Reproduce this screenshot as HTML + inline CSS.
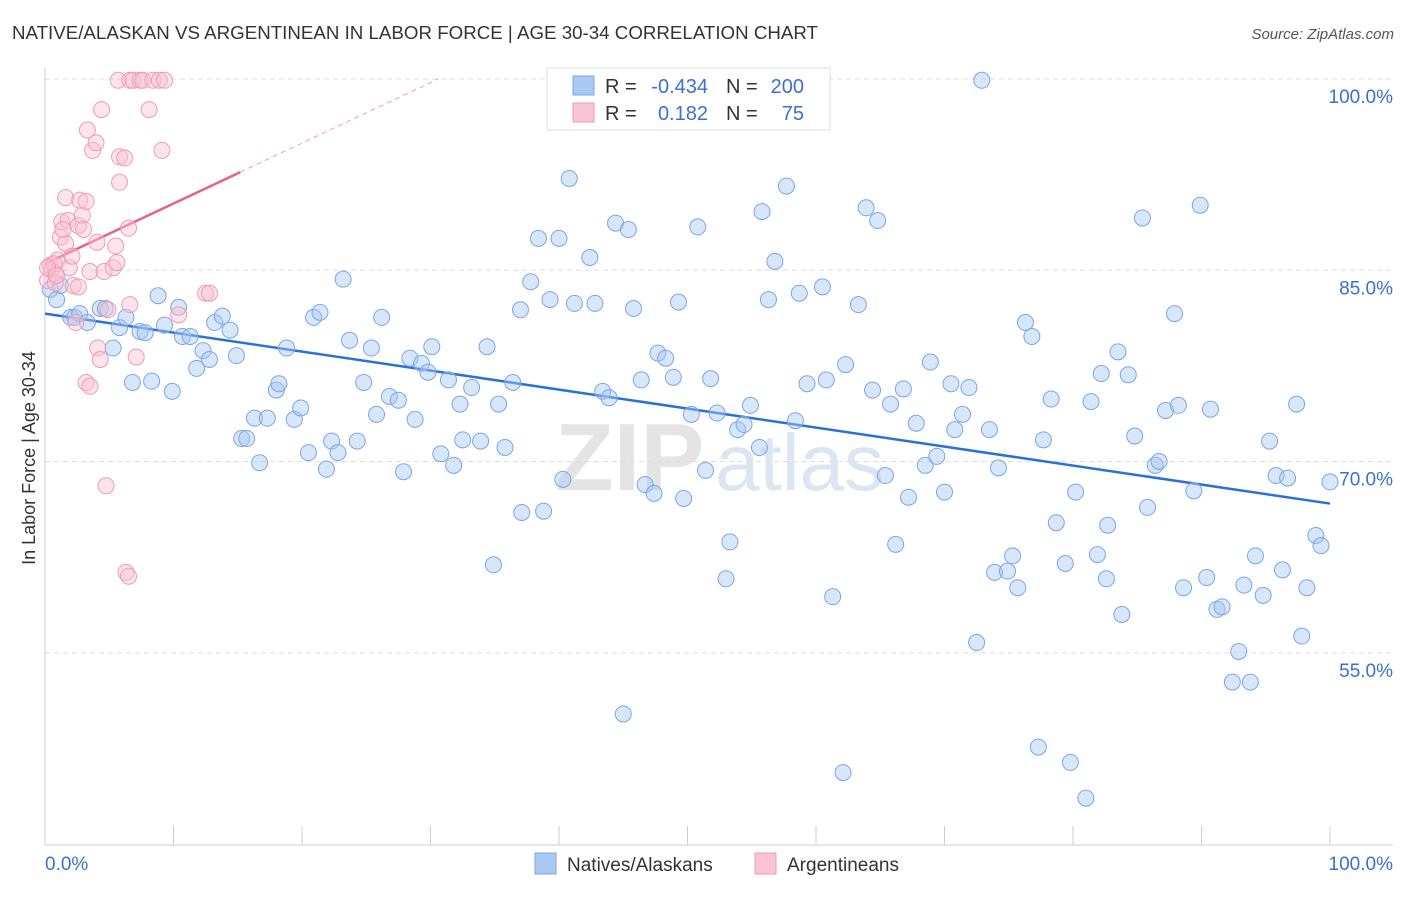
<!DOCTYPE html>
<html><head><meta charset="utf-8"><style>
body{margin:0;background:#fff;font-family:"Liberation Sans",sans-serif;}
svg text{font-family:"Liberation Sans",sans-serif;}
</style></head><body>
<svg id="chart" width="1406" height="892" xmlns="http://www.w3.org/2000/svg">
<text x="12" y="39" font-size="18" fill="#333" textLength="806" lengthAdjust="spacingAndGlyphs">NATIVE/ALASKAN VS ARGENTINEAN IN LABOR FORCE | AGE 30-34 CORRELATION CHART</text>
<text x="1394" y="39" font-size="15" fill="#555" font-style="italic" text-anchor="end">Source: ZipAtlas.com</text>
<text x="35" y="458" font-size="18" fill="#333" text-anchor="middle" transform="rotate(-90 35 458)">In Labor Force | Age 30-34</text>
<g><text x="555" y="490" font-size="96" fill="#e4e4e4" font-family="Liberation Serif" font-weight="bold">ZIP</text><text x="715" y="490" font-size="80" fill="#dce6f2">atlas</text></g>
<g id="grid"></g><g id="axes"></g><g id="trend"></g><g id="pts"></g>
<g>
<rect x="547" y="68" width="283" height="62" fill="#fff" stroke="#ddd"/>
<rect x="573" y="76" width="21" height="19" fill="#a9c8f2" stroke="#7aa6e6"/>
<rect x="573" y="103" width="21" height="19" fill="#f9c4d3" stroke="#f09ab5"/>
<text x="605" y="93" font-size="20" fill="#333">R =</text><text x="708" y="93" font-size="20" fill="#3b6fd1" text-anchor="end">-0.434</text>
<text x="726" y="93" font-size="20" fill="#333">N =</text><text x="804" y="93" font-size="20" fill="#3b6fd1" text-anchor="end">200</text>
<text x="605" y="120" font-size="20" fill="#333">R =</text><text x="708" y="120" font-size="20" fill="#3b6fd1" text-anchor="end">0.182</text>
<text x="726" y="120" font-size="20" fill="#333">N =</text><text x="804" y="120" font-size="20" fill="#3b6fd1" text-anchor="end">75</text>
</g>
<g>
<rect x="535" y="853" width="21" height="21" fill="#a9c8f2" stroke="#7aa6e6"/>
<text x="567" y="871" font-size="19" fill="#333">Natives/Alaskans</text>
<rect x="755" y="853" width="21" height="21" fill="#f9c4d3" stroke="#f09ab5"/>
<text x="787" y="871" font-size="19" fill="#333">Argentineans</text>
</g>
</svg>
<script>
const blueX=[0.4,0.9,1.2,2,2.3,2.7,3.3,4.3,4.7,5.3,5.8,6.3,6.8,7.4,7.8,8.3,8.8,9.3,9.9,10.4,10.7,11.3,11.8,12.3,12.8,13.2,13.8,14.4,14.9,15.3,15.7,16.3,16.7,17.3,18,18.2,18.8,19.4,19.9,20.5,20.9,21.4,21.9,22.3,22.8,23.2,23.7,24.3,24.8,25.4,25.8,26.2,26.8,27.5,27.9,28.4,28.8,29.3,29.8,30.1,30.8,31.4,31.8,32.3,32.5,33.2,33.9,34.4,34.9,35.3,35.8,36.4,37,37.1,37.8,38.4,38.8,39.3,40,40.3,40.8,41.2,42.4,42.8,43.4,43.9,44.4,45,45.4,45.8,46.4,46.7,47.4,47.7,48.3,48.9,49.3,49.7,50.3,50.8,51.4,51.8,52.3,53,53.3,53.9,54.4,54.9,55.6,55.8,56.3,56.8,57.7,58.4,58.7,59.3,59.9,60.5,60.8,61.3,62.1,62.3,63.3,63.9,64.4,64.8,65.4,65.8,66.2,66.8,67.2,67.8,68.5,68.9,69.4,70,70.5,70.8,71.4,71.9,72.5,72.9,73.5,73.9,74.2,74.9,75.3,75.7,76.3,76.8,77.3,77.7,78.3,78.7,79.4,79.8,80.2,81,81.4,81.9,82.2,82.6,82.7,83.5,83.8,84.3,84.8,85.4,85.8,86.4,86.7,87.2,87.9,88.2,88.6,89.4,89.9,90.4,90.7,91.2,91.6,92.4,92.9,93.3,93.8,94.2,94.8,95.3,95.8,96.3,96.7,97.4,97.8,98.2,98.9,99.3,100];
const blueY=[83.5,82.7,83.8,81.3,81.3,81.6,80.9,82,82,78.9,80.5,81.3,76.2,80.2,80.1,76.3,83,80.7,75.5,82.1,79.8,79.8,77.3,78.7,78,80.9,81.4,80.3,78.3,71.8,71.8,73.4,69.9,73.4,75.6,76.1,78.9,73.3,74.2,70.7,81.3,81.7,69.4,71.6,70.7,84.3,79.5,71.6,76.2,78.9,73.7,81.3,75.1,74.8,69.2,78.1,73.3,77.7,77,79,70.6,76.4,69.7,74.5,71.7,75.8,71.6,79,61.9,74.5,71.1,76.2,81.9,66,84.1,87.5,66.1,82.7,87.5,68.6,92.2,82.4,86,82.4,75.5,75,88.7,50.2,88.2,82,76.4,68.2,67.5,78.5,78.1,76.6,82.5,67.1,73.7,88.4,69.3,76.5,73.8,60.8,63.7,72.5,72.9,74.4,71.1,89.6,82.7,85.7,91.6,73.2,83.2,76.1,99.9,83.7,76.4,59.4,45.6,77.6,82.3,89.9,75.6,88.9,68.9,74.5,63.5,75.7,67.2,73,69.7,77.8,70.4,67.6,76.1,72.5,73.7,75.8,55.8,99.9,72.5,61.3,69.5,61.4,62.6,60.1,80.9,79.8,47.6,71.7,74.9,65.2,62,46.4,67.6,43.6,74.7,62.7,76.9,60.8,65,78.6,58,76.8,72,89.1,66.4,69.7,70,74,81.6,74.4,60.1,67.7,90.1,60.9,74.1,58.4,58.6,52.7,55.1,60.3,52.7,62.6,59.5,71.6,68.9,61.5,68.7,74.5,56.3,60.1,64.2,63.4,68.4];
const pinkX=[0.4,0.5,0.8,0.2,0.8,1,1.2,1.3,1.6,1.6,1.8,1.9,2.1,2.2,2.4,2.6,2.6,2.7,2.9,3,3.2,3.3,3.5,3.2,3.5,3.7,3.97,4.05,4.1,4.3,4.4,4.6,4.75,4.9,5.3,5.5,5.6,5.7,5.8,5.8,6.2,6.3,6.5,6.5,6.6,6.85,7.1,7.4,7.6,8.1,8.4,8.9,9.1,9.3,10.4,12.5,12.8,6.6,1.4,0.7,0.2,0.9];
const pinkY=[85.4,85,84.8,84.2,84,85.8,87.6,88.8,90.7,87.1,88.9,85.2,86.1,83.8,80.9,83.7,88.5,90.5,89.3,88.2,90.4,96,84.9,76.2,75.9,94.4,95,87.2,78.9,78,97.6,84.9,68.1,81.9,85.2,86.9,85.6,99.9,91.9,93.9,93.8,61.3,61,88.3,99.9,99.9,78.2,99.9,99.9,97.6,99.9,99.9,94.4,99.9,81.5,83.2,83.2,82.3,88.2,85.5,85.2,84.6];
const yTicks=[100,85,70,55];
const xTickLabels=["0.0%","100.0%"];
const blueTrend=[81.6,66.7];
const pinkTrend=[85.5,92.7];
const pinkSolidEnd=15.2;

const sx=v=>45+v*12.85;
const sy=v=>79+(100-v)*12.75;
const NS="http://www.w3.org/2000/svg";
function mk(tag,attrs,parent){const e=document.createElementNS(NS,tag);for(const k in attrs)e.setAttribute(k,attrs[k]);document.getElementById(parent).appendChild(e);return e;}
yTicks.forEach(t=>{
 const l=mk('line',{x1:45,x2:1393,y1:sy(t),y2:sy(t),stroke:'#ddd','stroke-dasharray':'5,4'},'grid');
 
 
 const tx=mk('text',{x:1393,y:sy(t)+24,'font-size':19,fill:'#3b6fd1','text-anchor':'end'},'grid');
 tx.textContent=t.toFixed(1)+'%';
 
 
});
const ax=mk('line',{x1:45,x2:1393,y1:845,y2:845,stroke:'#ccc'},'axes');


const ay=mk('line',{x1:45,x2:45,y1:68,y2:845,stroke:'#ccc'},'axes');


for(let i=0;i<=10;i++){const t=mk('line',{x1:sx(i*10),x2:sx(i*10),y1:826,y2:845,stroke:'#ccc'},'axes');
 
 }
const xl0=mk('text',{x:45,y:870,'font-size':19,fill:'#3b6fd1'},'axes');xl0.textContent=xTickLabels[0];


const xl1=mk('text',{x:1393,y:870,'font-size':19,fill:'#3b6fd1','text-anchor':'end'},'axes');xl1.textContent=xTickLabels[1];


blueX.forEach((x,i)=>{const c=mk('circle',{cx:sx(x),cy:sy(blueY[i]),r:8,fill:'rgba(169,200,242,0.45)',stroke:'#7aa6e6','stroke-width':1},'pts');
 
 });
pinkX.forEach((x,i)=>{const c=mk('circle',{cx:sx(x),cy:sy(pinkY[i]),r:8,fill:'rgba(249,196,211,0.45)',stroke:'#f09ab5','stroke-width':1},'pts');
 
 });
const bt=mk('line',{x1:sx(0),y1:sy(blueTrend[0]),x2:sx(100),y2:sy(blueTrend[1]),stroke:'#2a6fdb','stroke-width':2.5},'trend');


const slope=(pinkTrend[1]-pinkTrend[0])/pinkSolidEnd;
const pt=mk('line',{x1:sx(0),y1:sy(pinkTrend[0]),x2:sx(pinkSolidEnd),y2:sy(pinkTrend[1]),stroke:'#e8608c','stroke-width':2.5},'trend');


const xEnd=(100-pinkTrend[0])/slope;
const pd=mk('line',{x1:sx(pinkSolidEnd),y1:sy(pinkTrend[1]),x2:sx(xEnd),y2:sy(100),stroke:'#f0a0b8','stroke-width':1,'stroke-dasharray':'5,4'},'trend');


</script>
</body></html>
